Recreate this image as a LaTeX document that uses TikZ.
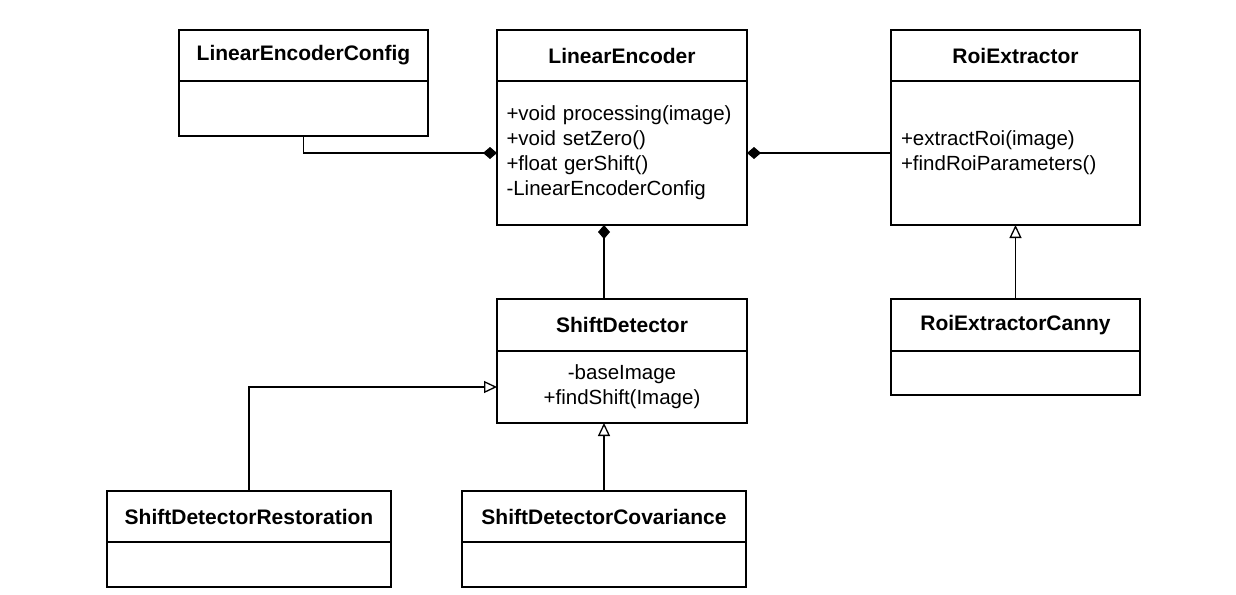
\documentclass[tikz,border=0pt]{standalone}
\usepackage{fontspec}
\setmainfont{Liberation Sans}
\usetikzlibrary{arrows.meta}
\begin{document}
\begin{tikzpicture}[x=1pt,y=-1pt,
  box/.style={draw=black,line width=1.3pt,inner sep=0pt,outer sep=0pt,font=\fontsize{20.5}{25}\selectfont},
  hdr/.style={box,anchor=north west,minimum height=51pt,font=\fontsize{21}{25}\selectfont\bfseries},
  bodybox/.style={box,anchor=north},
  conn/.style={line width=1.3pt,draw=black},
  comp/.style={conn,{Diamond[length=14pt,width=12pt]}-},
  inh/.style={conn,-{Triangle[open,length=13pt,width=12pt,fill=white]}}
]
\useasboundingbox (0,0) rectangle (1236,594);
\fill[white] (0,0) rectangle (1236,594);

% LinearEncoderConfig
\node[hdr,minimum width=249pt] (cfg) at (179,30) {LinearEncoderConfig};
\node[bodybox,minimum width=249pt,minimum height=55pt] (cfgb) at (cfg.south) {};

% LinearEncoder
\node[hdr,minimum width=250pt] (le) at (497,30) {LinearEncoder};
\node[bodybox,text width=231pt,inner xsep=9.5pt,minimum height=144pt,align=left] (leb) at (le.south)
  {\hyphenpenalty=10000 +void processing(image)\\+void setZero()\\+float gerShift()\\-LinearEncoderConfig};

% RoiExtractor
\node[hdr,minimum width=249pt] (re) at (891,30) {RoiExtractor};
\node[bodybox,text width=229pt,inner xsep=10pt,minimum height=144pt,align=left] (reb) at (re.south)
  {\hyphenpenalty=10000 +extractRoi(image)\\+findRoiParameters()};

% RoiExtractorCanny
\node[hdr,minimum width=249pt,minimum height=52pt] (rec) at (891,299) {RoiExtractorCanny};
\node[bodybox,minimum width=249pt,minimum height=44pt] (recb) at (rec.south) {};

% ShiftDetector
\node[hdr,minimum width=250pt,minimum height=52pt] (sd) at (497,299) {ShiftDetector};
\node[bodybox,text width=230pt,inner xsep=10pt,minimum height=72pt,align=center] (sdb) at (sd.south)
  {-baseImage\\+findShift(Image)};

% ShiftDetectorRestoration
\node[hdr,minimum width=284pt] (rsh) at (107,491) {ShiftDetectorRestoration};
\node[bodybox,minimum width=284pt,minimum height=45pt] (rshb) at (rsh.south) {};

% ShiftDetectorCovariance
\node[hdr,minimum width=284pt] (cov) at (462,491) {ShiftDetectorCovariance};
\node[bodybox,minimum width=284pt,minimum height=45pt] (covb) at (cov.south) {};

% connectors
\draw[comp] (leb.west) -| (cfgb.south);
\draw[comp] (leb.east) -- (reb.west);
\draw[comp] (leb.south -| cov.north) -- (sd.north -| cov.north);
\draw[inh] (rec.north) -- (reb.south);
\draw[inh] (cov.north) -- (cov.north |- sdb.south);
\draw[inh] (rsh.north) |- (sdb.west);
\end{tikzpicture}
\end{document}
